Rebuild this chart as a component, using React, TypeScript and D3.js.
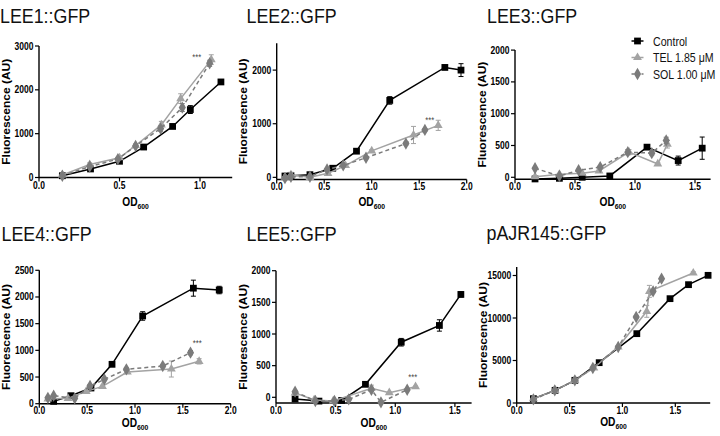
import React from "react";
import * as d3 from "d3";

// ---------- data ----------
const panelTitles = ["LEE1::GFP", "LEE2::GFP", "LEE3::GFP", "LEE4::GFP", "LEE5::GFP", "pAJR145::GFP"];
const seriesNames = ["Control", "TEL 1.85 \u03bcM", "SOL 1.00 \u03bcM"];

// LEE1
const lee1CtrlOD = [0.145, 0.32, 0.5, 0.65, 0.83, 0.94, 1.13];
const lee1CtrlF = [40, 195, 370, 695, 1165, 1550, 2180];
const lee1CtrlE = [20, 30, 30, 30, 40, 90, 40];
const lee1TelOD = [0.145, 0.315, 0.5, 0.6, 0.76, 0.88, 1.07];
const lee1TelF = [60, 295, 450, 730, 1200, 1800, 2690];
const lee1TelE = [20, 40, 30, 40, 80, 110, 110];
const lee1SolOD = [0.145, 0.315, 0.49, 0.6, 0.755, 0.89, 1.06];
const lee1SolF = [40, 250, 420, 720, 1115, 1595, 2605];
const lee1SolE = [20, 30, 30, 30, 60, 90, 70];

// LEE2
const lee2CtrlOD = [0.087, 0.15, 0.35, 0.59, 0.84, 1.19, 1.77, 1.94];
const lee2CtrlF = [25, 31, 50, 170, 488, 1435, 2050, 2000];
const lee2CtrlE = [15, 15, 15, 20, 30, 70, 40, 120];
const lee2TelOD = [0.087, 0.15, 0.35, 0.54, 0.725, 1.0, 1.44, 1.7];
const lee2TelF = [5, 45, 0, 75, 220, 494, 790, 970];
const lee2TelE = [10, 50, 10, 15, 20, 20, 160, 95];
const lee2SolOD = [0.087, 0.15, 0.35, 0.53, 0.7, 0.94, 1.36, 1.56];
const lee2SolF = [-15, 12, 12, 148, 222, 365, 630, 885];
const lee2SolE = [10, 10, 10, 15, 20, 20, 25, 25];

// LEE3
const lee3CtrlOD = [0.167, 0.37, 0.56, 0.79, 1.1, 1.36, 1.56];
const lee3CtrlF = [-26, -16, 0, 21, 474, 263, 458];
const lee3CtrlE = [10, 10, 10, 10, 30, 70, 175];
const lee3TelOD = [0.167, 0.37, 0.56, 0.7, 0.95, 1.19, 1.27];
const lee3TelF = [10, 47, 63, 100, 395, 210, 520];
const lee3TelE = [10, 10, 10, 15, 40, 20, 60];
const lee3SolOD = [0.167, 0.37, 0.53, 0.71, 0.94, 1.14, 1.26];
const lee3SolF = [142, 20, 110, 160, 395, 380, 580];
const lee3SolE = [10, 10, 15, 15, 40, 30, 50];

// LEE4
const lee4CtrlOD = [0.15, 0.33, 0.54, 0.76, 1.08, 1.61, 1.88];
const lee4CtrlF = [44, 150, 294, 738, 1644, 2165, 2130];
const lee4CtrlE = [10, 20, 20, 30, 80, 150, 70];
const lee4TelOD = [0.09, 0.3, 0.49, 0.66, 0.92, 1.38, 1.67];
const lee4TelF = [90, 100, 231, 325, 594, 650, 794];
const lee4TelE = [15, 15, 20, 20, 30, 150, 50];
const lee4SolOD = [0.09, 0.15, 0.37, 0.53, 0.68, 0.91, 1.29, 1.58];
const lee4SolF = [110, 150, 100, 331, 456, 644, 706, 956];
const lee4SolE = [15, 15, 15, 20, 20, 25, 30, 40];

// LEE5
const lee5CtrlOD = [0.16, 0.36, 0.55, 0.75, 1.05, 1.37, 1.55];
const lee5CtrlF = [-26, -60, -50, 205, 870, 1135, 1625];
const lee5CtrlE = [10, 10, 10, 20, 60, 90, 40];
const lee5TelOD = [0.16, 0.32, 0.48, 0.8, 0.95, 1.17];
const lee5TelF = [70, -42, -58, 142, 74, 168];
const lee5TelE = [10, 10, 10, 50, 10, 10];
const lee5SolOD = [0.16, 0.33, 0.49, 0.61, 0.8, 0.88, 1.1];
const lee5SolF = [89, -58, -58, -32, 120, -79, 120];
const lee5SolE = [10, 10, 10, 10, 20, 10, 15];

// pAJR145
const pajrCtrlOD = [0.158, 0.363, 0.55, 0.78, 1.136, 1.45, 1.625, 1.81];
const pajrCtrlF = [510, 1490, 2667, 4745, 8157, 12275, 13922, 15020];
const pajrCtrlE = [100, 100, 100, 100, 150, 150, 150, 150];
const pajrTelOD = [0.158, 0.363, 0.55, 0.73, 0.96, 1.23, 1.255, 1.67];
const pajrTelF = [510, 1490, 2667, 4118, 6588, 10784, 13137, 15294];
const pajrTelE = [100, 100, 100, 100, 150, 700, 700, 150];
const pajrSolOD = [0.158, 0.36, 0.55, 0.72, 0.96, 1.13, 1.29, 1.37];
const pajrSolF = [420, 1490, 2667, 4118, 6588, 10118, 13137, 14627];
const pajrSolE = [100, 100, 100, 100, 150, 150, 150, 150];

// axis ticks
const yTicks = [
  [0, 1000, 2000, 3000],
  [0, 1000, 2000],
  [0, 500, 1000, 1500, 2000],
  [0, 500, 1000, 1500, 2000, 2500],
  [0, 500, 1000, 1500, 2000],
  [0, 5000, 10000, 15000],
];
const xTicks = [
  [0, 0.5, 1.0],
  [0, 0.5, 1.0, 1.5, 2.0],
  [0, 0.5, 1.0, 1.5],
  [0, 0.5, 1.0, 1.5, 2.0],
  [0, 0.5, 1.0, 1.5],
  [0, 0.5, 1.0, 1.5],
];
const yDomains = [[0, 3000], [-40, 2500], [-30, 2000], [0, 2500], [-90, 2000], [0, 16000]];
const xDomains = [[0, 1.2], [0, 2], [0, 1.63], [0, 2], [0, 1.64], [0, 1.83]];
// significance marks [OD, fluorescence] (null = none)
const stars: (number[] | null)[] = [[0.98, 2770], [1.61, 1080], null, [1.65, 1156], [1.146, 336], null];

const panelSeries = [
  [[lee1CtrlOD, lee1CtrlF, lee1CtrlE], [lee1TelOD, lee1TelF, lee1TelE], [lee1SolOD, lee1SolF, lee1SolE]],
  [[lee2CtrlOD, lee2CtrlF, lee2CtrlE], [lee2TelOD, lee2TelF, lee2TelE], [lee2SolOD, lee2SolF, lee2SolE]],
  [[lee3CtrlOD, lee3CtrlF, lee3CtrlE], [lee3TelOD, lee3TelF, lee3TelE], [lee3SolOD, lee3SolF, lee3SolE]],
  [[lee4CtrlOD, lee4CtrlF, lee4CtrlE], [lee4TelOD, lee4TelF, lee4TelE], [lee4SolOD, lee4SolF, lee4SolE]],
  [[lee5CtrlOD, lee5CtrlF, lee5CtrlE], [lee5TelOD, lee5TelF, lee5TelE], [lee5SolOD, lee5SolF, lee5SolE]],
  [[pajrCtrlOD, pajrCtrlF, pajrCtrlE], [pajrTelOD, pajrTelF, pajrTelE], [pajrSolOD, pajrSolF, pajrSolE]],
];

// ---------- layout / style ----------
const layouts = [
  { left: 39, right: 232.2, top: 46, bottom: 177.5, tx: 0, ty: 23, odY: 205.5, tdy: 11.5 },
  { left: 276.7, right: 466.7, top: 43.3, bottom: 179.5, tx: 246.5, ty: 23, odY: 205.5, tdy: 10.5 },
  { left: 515, right: 710.6, top: 50.1, bottom: 179.2, tx: 487, ty: 23, odY: 205.5, tdy: 10.5 },
  { left: 39.3, right: 230.7, top: 270.3, bottom: 403.7, tx: 1.5, ty: 241, odY: 426.5, tdy: 10 },
  { left: 276, right: 471.6, top: 270.7, bottom: 403, tx: 246.5, ty: 241, odY: 426.5, tdy: 10.5 },
  { left: 516.7, right: 710.2, top: 267, bottom: 403, tx: 486.5, ty: 240, odY: 426, tdy: 10.5 },
];
const colors = ["#000000", "#a3a3a3", "#7b7b7b"];
const symbols = [d3.symbolSquare, d3.symbolTriangle, d3.symbolDiamond];
const symSizes = [46, 34, 44];
const dashes = [undefined, undefined, "4,3"];
const SX = 0.85;
const FONT = "Liberation Sans, Arial, Helvetica, sans-serif";

function T(props: any) {
  const { x, y, rot, children, ...rest } = props;
  const tr = `translate(${x},${y}) scale(${SX},1)` + (rot ? ` rotate(${rot})` : "");
  return (
    <text transform={tr} fontFamily={FONT} {...rest}>
      {children}
    </text>
  );
}

function Panel({ i }: { i: number }) {
  const L = layouts[i];
  const x = d3.scaleLinear().domain(xDomains[i]).range([L.left, L.right]);
  const y = d3.scaleLinear().domain(yDomains[i]).range([L.bottom, L.top]);
  const fmtX = d3.format(".1f");
  const series = panelSeries[i];
  const cy = (L.top + L.bottom) / 2;
  const cx = (L.left + L.right) / 2;
  return (
    <g>
      <T x={L.tx} y={L.ty} fontSize={21} fill="#111">
        {panelTitles[i]}
      </T>
      {/* axes */}
      <line x1={L.left} x2={L.right} y1={L.bottom} y2={L.bottom} stroke="#000" strokeWidth={1.4} />
      <line x1={L.left} x2={L.left} y1={L.bottom} y2={L.top} stroke="#000" strokeWidth={1.4} />
      {yTicks[i].map((t) => (
        <g key={"y" + t}>
          <line x1={L.left - 4} x2={L.left} y1={y(t)} y2={y(t)} stroke="#000" strokeWidth={1.2} />
          <T x={L.left - 5.5} y={y(t) + 3.5} fontSize={10} fontWeight="bold" textAnchor="end">
            {t}
          </T>
        </g>
      ))}
      {xTicks[i].map((t) => (
        <g key={"x" + t}>
          <line x1={x(t)} x2={x(t)} y1={L.bottom} y2={L.bottom + 4} stroke="#000" strokeWidth={1.2} />
          <T x={x(t)} y={L.bottom + L.tdy} fontSize={10} fontWeight="bold" textAnchor="middle">
            {fmtX(t)}
          </T>
        </g>
      ))}
      <T x={L.left - 29.5} y={cy} rot={-90} fontSize={12} fontWeight="bold" textAnchor="middle">
        Fluorescence (AU)
      </T>
      <T x={cx} y={L.odY} fontSize={12} fontWeight="bold" textAnchor="middle">
        OD
        <tspan fontSize={8} dy={3}>
          600
        </tspan>
      </T>
      {series.map((s, k) => {
        const [xs, ys, es] = s;
        const pts = xs.map((v, j) => [x(v), y(ys[j])] as [number, number]);
        const line = d3.line()(pts) || "";
        const sym = d3.symbol().type(symbols[k]).size(symSizes[k])() || "";
        return (
          <g key={k}>
            <path d={line} fill="none" stroke={colors[k]} strokeWidth={1.5} strokeDasharray={dashes[k]} />
            {xs.map((v, j) => {
              const px = x(v);
              const y1 = y(ys[j] + es[j]);
              const y2 = y(ys[j] - es[j]);
              return (
                <g key={"e" + j} stroke={colors[k]} strokeWidth={1}>
                  <line x1={px} x2={px} y1={y1} y2={y2} />
                  <line x1={px - 2.5} x2={px + 2.5} y1={y1} y2={y1} />
                  <line x1={px - 2.5} x2={px + 2.5} y1={y2} y2={y2} />
                </g>
              );
            })}
            {xs.map((v, j) => (
              <path key={"m" + j} d={sym} transform={`translate(${x(v)},${y(ys[j])})`} fill={colors[k]} />
            ))}
          </g>
        );
      })}
      {stars[i] && (
        <T x={x(stars[i]![0])} y={y(stars[i]![1]) + 4} fontSize={9} fill="#444" textAnchor="middle">
          ***
        </T>
      )}
    </g>
  );
}

function Legend() {
  const rows = [41, 57.5, 74];
  return (
    <g>
      {seriesNames.map((n, k) => {
        const sym = d3.symbol().type(symbols[k]).size(symSizes[k])() || "";
        return (
          <g key={n}>
            <line x1={631.5} x2={643.5} y1={rows[k]} y2={rows[k]} stroke={colors[k]} strokeWidth={1.5} strokeDasharray={k === 2 ? "3,2" : undefined} />
            <path d={sym} transform={`translate(637.5,${rows[k]})`} fill={colors[k]} />
            <T x={653} y={rows[k] + 4.5} fontSize={12.5} fill="#111">
              {n}
            </T>
          </g>
        );
      })}
    </g>
  );
}

export default function App() {
  return (
    <svg width={720} height={436} style={{ position: "absolute", left: 0, top: 0, background: "#fff" }}>
      <rect width={720} height={436} fill="#fff" />
      {panelTitles.map((_, i) => (
        <Panel key={i} i={i} />
      ))}
      <Legend />
    </svg>
  );
}
